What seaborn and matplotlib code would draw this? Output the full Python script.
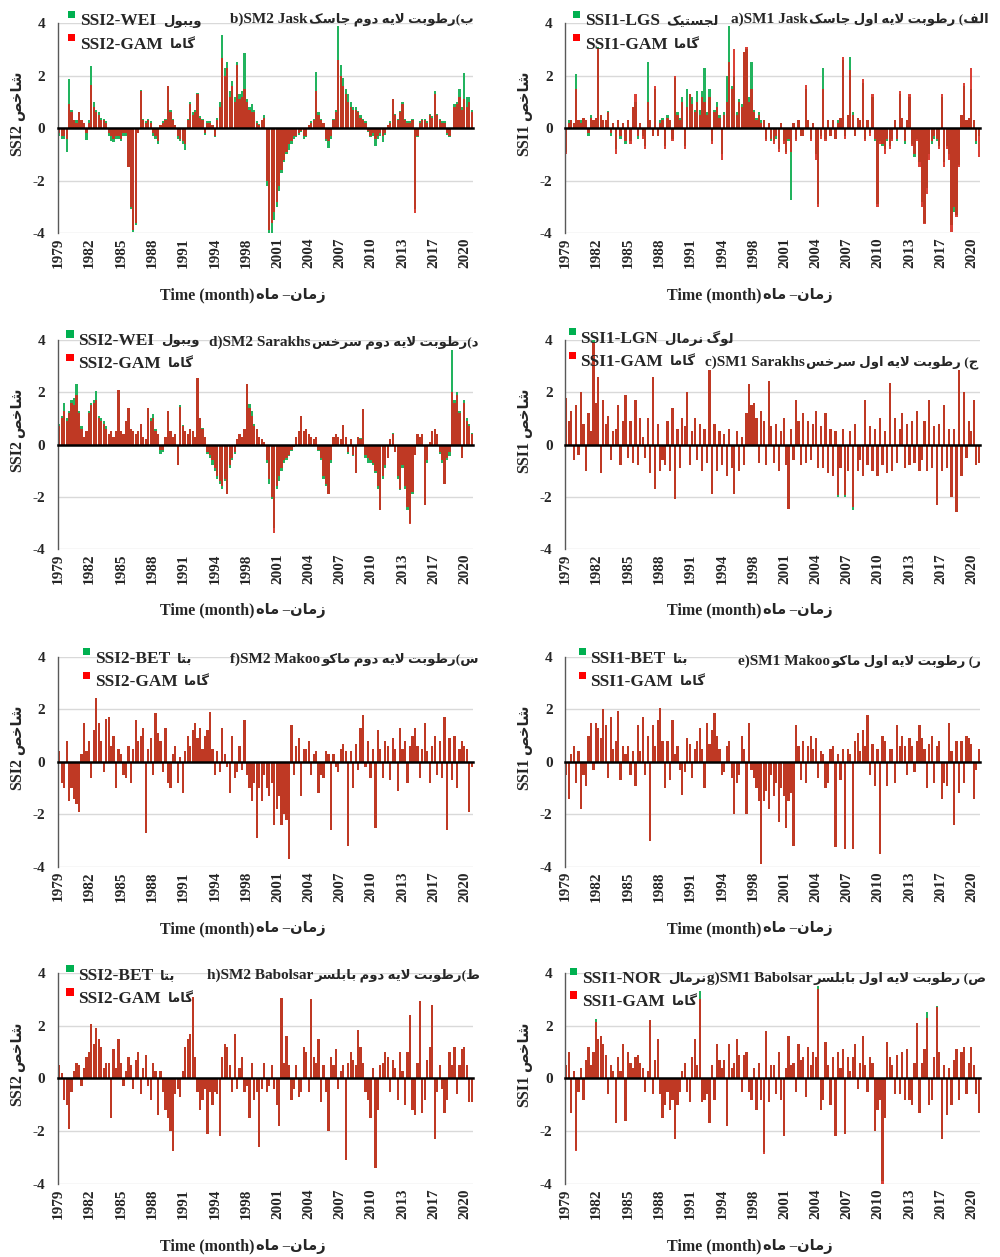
import numpy as np
import matplotlib
matplotlib.use('Agg')
import matplotlib.pyplot as plt
import seaborn as sns
from matplotlib.patches import Rectangle
from matplotlib.legend_handler import HandlerPatch

# quarterly SSI values, 1979 Q1 .. 2020 Q4 (4 per year)
b_gam = [-0.2,-0.3,-0.3,-0.4, 0.9,0.6,0.3,0.2, 0.6,0.3,0.2,-0.2,
         0.2,1.65,0.8,0.6, 0.5,0.3,0.3,0.2, -0.2,-0.3,-0.4,-0.3,
         -0.3,-0.4,-0.2,-0.2, -1.5,-3.0,-3.9,-3.6, -0.2,1.4,0.3,0.2,
         0.3,0.2,-0.2,-0.3, -0.5,0.1,0.2,0.3, 1.6,0.6,0.3,0.1,
         -0.3,-0.4,-0.5,-0.6, 0.3,0.9,0.5,0.6, 1.3,0.4,0.3,-0.2,
         0.2,0.2,0.1,-0.3, 0.3,0.8,2.65,2.0, 2.3,1.2,1.6,1.0,
         2.4,1.1,1.2,1.5, 1.0,0.7,0.6,0.6, 0.2,0.1,0.3,0.4,
         -2.0,-3.9,-3.6,-3.2, -2.8,-2.2,-1.6,-1.2, -0.9,-0.6,-0.5,-0.3,
         -0.3,-0.2,-0.1,-0.3, -0.3,0.1,0.2,0.3, 1.4,0.5,0.3,0.2,
         -0.4,-0.5,-0.3,0.3, 0.6,2.6,2.0,1.6, 1.3,1.0,0.8,0.7,
         0.7,0.6,0.4,0.3, 0.2,-0.1,-0.3,-0.2, -0.4,-0.3,-0.2,-0.3,
         -0.2,0.1,0.2,1.1, 0.5,0.3,0.6,0.9, 0.3,0.2,0.2,0.3,
         -3.25,-0.3,0.2,0.3, 0.3,0.2,0.5,0.4, 1.3,0.5,0.3,0.2,
         0.2,-0.2,-0.3,0.0, 0.8,0.9,1.2,0.7, 1.1,0.8,1.0,0.6]
b_wei = [-0.3,-0.4,-0.4,-0.9, 1.85,0.7,0.3,0.3, 0.6,0.3,0.2,-0.45,
         0.3,2.35,1.0,0.7, 0.6,0.4,0.35,0.25, -0.3,-0.5,-0.55,-0.4,
         -0.4,-0.5,-0.3,-0.3, -1.5,-3.1,-3.95,-3.7, -0.2,1.45,0.35,0.25,
         0.35,0.25,-0.3,-0.4, -0.6,0.1,0.25,0.35, 1.6,0.7,0.35,0.1,
         -0.4,-0.5,-0.6,-0.85, 0.35,1.0,0.6,0.7, 1.35,0.45,0.35,-0.25,
         0.25,0.25,0.1,-0.35, 0.4,1.0,3.55,2.3, 2.5,1.4,1.8,1.2,
         2.5,1.3,1.4,2.85, 1.1,0.8,0.9,0.7, 0.25,0.15,0.3,0.5,
         -2.2,-4.0,-4.0,-3.5, -3.0,-2.4,-1.7,-1.3, -1.0,-0.85,-0.6,-0.4,
         -0.35,-0.25,-0.15,-0.4, -0.35,0.1,0.25,0.35, 2.15,0.6,0.35,0.2,
         -0.5,-0.75,-0.4,0.35, 0.7,3.9,2.4,1.9, 1.5,1.3,1.0,0.8,
         0.8,0.65,0.5,0.35, 0.25,-0.15,-0.35,-0.3, -0.7,-0.4,-0.3,-0.55,
         -0.25,0.1,0.25,1.1, 0.55,0.35,0.65,1.0, 0.35,0.25,0.25,0.35,
         -3.1,-0.35,0.25,0.35, 0.35,0.25,0.55,0.45, 1.4,0.55,0.35,0.25,
         0.25,-0.25,-0.35,-0.05, 0.9,1.0,1.5,0.8, 2.1,1.2,1.2,0.7]

a_gam = [-1.0,0.2,0.3,0.2, 1.5,0.3,0.2,0.4, 0.3,-0.2,0.4,0.3,
         0.4,3.05,0.5,0.3, 0.3,0.6,-0.2,0.2, -1.0,0.3,-0.3,0.2,
         -0.5,0.3,-0.6,0.8, 1.3,-0.3,0.2,-0.4, -0.8,1.0,0.3,-0.3,
         1.6,-0.3,0.2,0.3, -0.8,0.4,0.3,-0.5, 2.0,0.5,0.3,1.0,
         -0.8,0.8,1.3,0.9, 0.6,1.0,0.5,1.2, 1.0,0.5,1.2,-0.6,
         0.6,0.8,0.4,-1.2, 0.5,1.0,2.5,1.5, 3.0,0.5,1.0,0.8,
         2.9,3.1,1.0,1.5, 0.6,0.3,0.5,0.2, 0.3,-0.5,0.2,-0.4,
         -0.6,-0.3,-0.9,0.2, -0.6,-1.0,-0.4,-0.9, 0.2,-0.5,0.3,-0.3,
         -0.3,1.65,0.3,-0.5, 0.2,-1.2,-3.0,-0.4, 1.5,-0.5,0.3,-0.3,
         0.3,-0.4,0.2,0.4, 2.7,-0.4,0.5,2.2, 0.5,-0.3,0.4,0.3,
         1.85,-0.5,0.3,-0.3, 1.3,-0.4,-3.0,-0.6, -0.6,-1.0,-0.4,-0.8,
         -0.5,0.3,-0.4,1.4, 0.4,-0.5,0.3,1.3, -0.7,-1.0,-0.5,-1.5,
         -3.0,-3.65,-2.5,-1.2, -0.5,-0.3,-0.4,-0.8, 1.3,-1.5,-0.8,-1.2,
         -3.95,-3.0,-3.4,-1.5, 0.5,1.7,0.3,0.4, 2.3,0.3,-0.5,-1.1]
a_lgs = [-0.9,0.3,0.3,0.2, 2.05,0.3,0.3,0.4, 0.3,-0.3,0.5,0.3,
         0.4,3.1,0.5,0.3, 0.3,0.65,-0.3,0.2, -0.8,0.3,-0.4,0.2,
         -0.6,0.3,-0.5,0.8, 1.0,-0.4,0.2,-0.3, -0.7,2.5,0.3,-0.3,
         1.5,-0.3,0.3,0.4, -0.7,0.5,0.3,-0.4, 1.9,0.6,0.4,1.2,
         -0.7,1.5,1.3,1.2, 0.7,1.4,0.7,1.4, 2.3,0.6,1.5,-0.5,
         0.7,1.0,0.5,-1.0, 0.6,2.0,3.9,1.6, 2.0,0.6,1.1,0.9,
         2.9,3.0,1.2,2.5, 0.7,0.4,0.6,0.3, 0.3,-0.4,0.2,-0.5,
         -0.5,-0.4,-0.8,0.2, -0.5,-0.9,-0.5,-2.75, 0.2,-0.4,0.3,-0.3,
         -0.3,1.5,0.3,-0.4, 0.2,-1.0,-2.9,-0.3, 2.3,-0.4,0.3,-0.3,
         0.3,-0.4,0.3,0.4, 2.6,-0.3,0.5,2.7, 0.6,-0.3,0.4,0.3,
         1.7,-0.4,0.3,-0.2, 1.2,-0.5,-2.9,-0.5, -0.7,-0.8,-0.5,-0.7,
         -0.4,0.3,-0.5,1.3, 0.4,-0.6,0.3,1.2, -0.6,-1.1,-0.4,-1.3,
         -2.8,-3.6,-2.3,-1.0, -0.6,-0.4,-0.5,-0.7, 1.2,-1.3,-0.7,-1.0,
         -3.7,-3.2,-3.3,-1.4, 0.5,1.6,0.3,0.4, 1.5,0.3,-0.6,-0.3]

d_gam = [0.7,1.0,1.3,0.9, 1.2,1.6,1.5,1.9, 1.2,0.6,0.3,0.5,
         1.2,1.5,1.6,1.7, 1.0,0.9,0.8,0.6, 0.4,0.5,0.3,0.5,
         2.1,0.5,0.4,0.9, 1.4,0.6,0.5,0.4, 0.5,0.8,0.3,0.2,
         1.4,0.9,1.0,0.5, 0.4,-0.2,-0.2,0.3, 1.3,0.5,0.3,0.4,
         -0.8,1.45,0.7,0.5, 0.4,0.6,0.5,0.3, 2.55,1.0,0.6,0.3,
         -0.3,-0.4,-0.6,-0.9, -1.2,-1.4,-1.6,-1.3, -1.9,-0.8,-0.5,-0.3,
         0.2,0.4,0.3,0.6, 2.3,1.4,1.1,0.7, 0.6,0.3,0.2,0.1,
         -0.6,-1.3,-2.0,-3.4, -1.6,-1.2,-0.9,-0.6, -0.5,-0.4,-0.2,-0.1,
         0.3,0.5,1.1,0.5, 0.6,0.4,0.3,0.2, 0.3,-0.2,-0.5,-1.2,
         -1.5,-1.9,-0.6,0.3, 0.4,0.3,0.2,0.75, 0.3,-0.3,0.2,-0.4,
         -1.1,0.3,0.2,1.35, -0.4,-0.5,-0.6,-0.7, -1.0,-1.6,-2.5,-1.2,
         -0.8,-0.5,0.2,0.4, -0.3,-1.2,-1.7,-0.8, -1.6,-2.4,-3.05,-1.8,
         -0.4,0.4,0.3,0.4, -2.3,-0.6,0.1,0.5, 0.6,0.4,-0.3,-0.6,
         -1.5,-0.5,-0.3,2.0, 1.6,1.9,1.2,-0.5, 1.6,0.9,0.7,0.4]
d_wei = [0.8,1.1,1.6,1.0, 1.3,1.7,1.8,2.3, 1.3,0.7,0.3,0.5,
         1.3,1.6,1.7,2.05, 1.1,1.0,0.9,0.7, 0.4,0.5,0.3,0.5,
         2.1,0.5,0.4,0.9, 1.4,0.6,0.5,0.4, 0.5,0.8,0.3,0.2,
         1.4,1.0,1.15,0.6, 0.4,-0.35,-0.3,0.3, 1.3,0.5,0.3,0.4,
         -0.8,1.5,0.75,0.5, 0.4,0.6,0.5,0.3, 2.55,1.0,0.65,0.3,
         -0.35,-0.5,-0.8,-1.0, -1.3,-1.5,-1.7,-1.4, -1.9,-0.9,-0.6,-0.35,
         0.2,0.4,0.3,0.6, 2.3,1.55,1.3,0.8, 0.6,0.3,0.2,0.1,
         -0.7,-1.5,-2.1,-3.2, -1.7,-1.4,-1.0,-0.7, -0.6,-0.45,-0.25,-0.1,
         0.3,0.5,1.1,0.5, 0.6,0.4,0.3,0.2, 0.3,-0.25,-0.6,-1.3,
         -1.6,-1.9,-0.7,0.3, 0.4,0.3,0.2,0.75, 0.3,-0.35,0.2,-0.45,
         -1.1,0.3,0.25,1.35, -0.5,-0.7,-0.7,-0.8, -1.1,-1.7,-2.5,-1.3,
         -0.9,-0.5,0.2,0.45, -0.3,-1.3,-1.75,-0.9, -1.7,-2.5,-3.0,-1.9,
         -0.4,0.4,0.3,0.4, -2.3,-0.7,0.1,0.5, 0.6,0.4,-0.35,-0.7,
         -1.5,-0.6,-0.45,3.6, 1.7,2.0,1.3,-0.5, 1.7,1.0,0.8,0.45]

c_gam = [1.8,0.9,1.3,-0.6, 1.5,-0.4,2.0,0.8, -1.0,1.2,0.5,3.9,
         1.6,2.6,-1.1,1.7, 0.8,1.1,-0.6,0.5, 0.6,1.5,-0.8,0.9,
         1.9,-0.5,0.9,-0.7, 1.7,-0.8,1.0,0.3, -0.5,1.0,-1.1,2.6,
         -1.7,0.8,-1.0,-0.6, -0.8,0.9,-1.0,1.4, -2.1,0.6,-0.9,1.0,
         0.7,2.0,-0.8,0.5, 1.0,-0.6,0.8,-1.0, 0.6,-0.7,2.85,-1.9,
         0.8,-1.0,0.5,-0.8, 0.4,-1.2,0.6,-0.9, -1.9,0.5,-1.0,0.3,
         -0.8,1.2,2.3,1.5, 1.6,1.0,-0.7,1.3, 0.9,-0.8,2.45,0.7,
         -0.7,0.8,-1.0,0.5, 1.0,-0.8,-2.45,0.6, -0.6,1.7,0.9,-0.8,
         1.2,-0.7,0.9,-0.6, 0.8,1.3,-0.9,0.7, -0.9,1.2,-1.1,0.6,
         -1.2,0.5,-1.95,-0.9, 0.6,-1.95,-1.0,0.5, -2.4,0.8,-1.0,-0.6,
         -1.2,1.7,-0.8,0.7, -1.0,0.6,-1.2,1.0, -0.8,0.5,-1.1,2.35,
         -1.0,1.0,-0.7,0.6, 1.2,-0.9,0.8,-0.8, 0.9,-0.7,1.3,-1.0,
         -0.6,0.9,-1.0,1.7, -0.9,0.7,-2.3,0.8, -1.0,1.5,-0.9,0.6,
         -2.0,0.6,-2.6,2.85, -1.2,2.0,-0.5,0.9, 0.5,1.7,-0.8,-0.7]
c_lgn = [1.8,0.9,1.3,-0.6, 1.5,-0.4,2.0,0.8, -1.0,1.2,0.5,4.0,
         1.6,2.6,-1.1,1.7, 0.8,1.1,-0.6,0.5, 0.6,1.5,-0.8,0.9,
         1.9,-0.5,0.9,-0.7, 1.7,-0.8,1.0,0.3, -0.5,1.0,-1.1,2.6,
         -1.7,0.8,-1.0,-0.6, -0.8,0.9,-1.0,1.4, -2.1,0.6,-0.9,1.0,
         0.7,2.0,-0.8,0.5, 1.0,-0.6,0.8,-1.0, 0.6,-0.7,2.85,-1.9,
         0.8,-1.0,0.5,-0.8, 0.4,-1.2,0.6,-0.9, -1.9,0.5,-1.0,0.3,
         -0.8,1.2,2.3,1.5, 1.6,1.0,-0.7,1.3, 0.9,-0.8,2.45,0.7,
         -0.7,0.8,-1.0,0.5, 1.0,-0.8,-2.45,0.6, -0.6,1.7,0.9,-0.8,
         1.2,-0.7,0.9,-0.6, 0.8,1.3,-0.9,0.7, -0.9,1.2,-1.1,0.6,
         -1.2,0.5,-2.0,-0.9, 0.6,-2.0,-1.0,0.5, -2.5,0.8,-1.0,-0.6,
         -1.2,1.7,-0.8,0.7, -1.0,0.6,-1.2,1.0, -0.8,0.5,-1.1,2.35,
         -1.0,1.0,-0.7,0.6, 1.2,-0.9,0.8,-0.8, 0.9,-0.7,1.3,-1.0,
         -0.6,0.9,-1.0,1.7, -0.9,0.7,-2.3,0.8, -1.0,1.5,-0.9,0.6,
         -2.0,0.6,-2.6,2.85, -1.2,2.0,-0.5,0.9, 0.5,1.7,-0.8,-0.7]

f_gam = [0.4,-0.8,-1.0,0.8, -1.5,-1.0,-1.4,-1.6, -1.9,0.3,1.5,0.4,
         0.8,-0.6,1.2,2.45, 1.5,0.8,-0.4,1.65, 1.7,0.6,1.0,-1.0,
         0.5,0.3,-0.5,-0.6, 0.6,-0.8,0.5,1.6, 0.8,1.0,1.3,-2.7,
         0.5,0.9,-0.5,1.85, 1.1,0.8,-0.4,1.3, -0.8,-1.0,0.3,0.6,
         -0.8,0.2,-1.2,0.4, 1.0,0.6,1.2,1.5, 0.9,1.3,0.5,1.0,
         1.2,1.9,0.5,-0.5, 0.4,-0.4,1.3,0.3, -0.2,-1.2,1.0,-0.6,
         -0.4,0.6,-0.3,1.6, -0.5,-1.0,-1.5,-0.8, -2.9,-1.0,-1.5,-0.5,
         -1.0,-1.3,-0.8,-2.4, -1.8,-1.3,-2.4,-2.0, -2.2,-3.7,1.4,-0.5,
         0.6,0.9,-1.3,0.5, 0.5,0.8,-0.5,0.3, 0.4,-1.2,-0.5,-0.6,
         0.4,0.3,-2.6,0.3, -0.2,-0.4,0.5,0.7, 0.4,-3.2,0.4,-1.0,
         0.7,-0.3,1.3,1.8, -0.2,0.8,-0.6,0.5, -2.5,1.2,0.5,-0.6,
         0.8,0.6,-0.7,0.9, 0.5,-1.1,1.3,0.5, 0.8,-0.8,0.6,1.0,
         1.3,0.6,-0.6,0.5, 1.5,0.4,-0.8,0.6, 1.0,-0.5,0.8,-0.6,
         1.7,-2.6,0.9,-0.7, 1.0,-1.0,0.5,0.8, 0.6,0.5,-1.9,-0.2]
f_bet = [0.4,-0.8,-1.0,0.8, -1.5,-1.0,-1.4,-1.6, -1.9,0.3,1.5,0.4,
         0.8,-0.6,1.2,2.45, 1.5,0.8,-0.4,1.65, 1.7,0.6,1.0,-1.0,
         0.5,0.3,-0.5,-0.6, 0.6,-0.8,0.5,1.6, 0.8,1.0,1.3,-2.7,
         0.5,0.9,-0.5,1.85, 1.1,0.8,-0.4,1.3, -0.8,-1.0,0.3,0.6,
         -0.8,0.2,-1.2,0.4, 1.0,0.6,1.2,1.5, 0.9,1.3,0.5,1.0,
         1.2,1.9,0.5,-0.5, 0.4,-0.4,1.3,0.3, -0.2,-1.2,1.0,-0.6,
         -0.4,0.6,-0.3,1.6, -0.5,-1.0,-1.5,-0.8, -2.9,-1.0,-1.5,-0.5,
         -1.0,-1.3,-0.8,-2.4, -1.8,-1.3,-2.4,-2.0, -2.2,-3.7,1.4,-0.5,
         0.6,0.9,-1.3,0.5, 0.5,0.8,-0.5,0.3, 0.4,-1.2,-0.5,-0.6,
         0.4,0.3,-2.6,0.3, -0.2,-0.4,0.5,0.7, 0.4,-3.2,0.4,-1.0,
         0.7,-0.3,1.3,1.8, -0.2,0.8,-0.6,0.5, -2.5,1.2,0.5,-0.6,
         0.8,0.6,-0.7,0.9, 0.5,-1.1,1.3,0.5, 0.8,-0.8,0.6,1.0,
         1.3,0.6,-0.6,0.5, 1.5,0.4,-0.8,0.6, 1.0,-0.5,0.8,-0.6,
         1.7,-2.6,0.9,-0.7, 1.0,-1.0,0.5,0.8, 0.6,0.5,-1.9,-0.2]

e_gam = [-0.5,-1.4,0.3,0.6, -0.8,0.4,-1.8,-0.5, -0.9,1.0,1.5,-0.3,
         1.5,1.3,0.9,2.0, 1.4,-0.6,1.7,0.5, 0.8,1.95,-0.7,0.6,
         0.3,0.6,-0.5,0.4, -0.9,1.4,0.4,1.7, -0.5,1.0,-3.0,1.4,
         0.6,1.6,2.05,0.8, -1.0,0.8,-0.7,1.6, 0.3,0.6,-0.3,-1.25,
         -0.4,0.9,0.7,-0.6, 0.5,0.8,1.3,0.5, -1.0,1.5,0.7,1.2,
         1.85,1.0,0.5,-0.5, -0.4,0.6,0.8,-0.6, -2.0,-0.8,-0.5,1.0,
         0.5,-2.0,1.5,-0.3, -0.6,-1.0,-1.5,-3.9, -1.5,-1.1,-1.8,-0.5,
         -1.3,-0.8,-2.3,-1.0, -1.3,-2.5,-1.5,-1.2, -3.2,1.4,0.6,-0.7,
         0.8,-0.8,0.6,1.0, 0.5,0.9,-0.6,0.4, 0.3,-1.0,-0.8,0.5,
         0.6,-3.25,0.3,-0.7, 0.5,-3.3,0.5,0.3, -3.3,0.8,1.1,0.4,
         1.2,0.6,1.8,-0.5, 0.7,-0.9,0.5,-3.5, 1.0,0.8,-0.9,0.5,
         0.5,-0.8,1.4,0.6, 1.0,0.6,-0.5,0.9, 0.6,-0.4,0.8,1.4,
         0.9,0.5,-1.0,0.7, 1.0,-0.8,0.6,0.8, -1.4,-0.8,-0.9,1.5,
         0.4,-2.4,0.8,-1.2, 0.8,-0.8,1.0,0.9, 0.7,-1.4,-0.3,0.5]
e_bet = [-0.5,-1.4,0.3,0.6, -0.8,0.4,-1.8,-0.5, -0.9,1.0,1.5,-0.3,
         1.5,1.3,0.9,2.0, 1.4,-0.6,1.7,0.5, 0.8,1.95,-0.7,0.6,
         0.3,0.6,-0.5,0.4, -0.9,1.4,0.4,1.7, -0.5,1.0,-3.0,1.4,
         0.6,1.6,2.05,0.8, -1.0,0.8,-0.7,1.6, 0.3,0.6,-0.3,-1.25,
         -0.4,0.9,0.7,-0.6, 0.5,0.8,1.3,0.5, -1.0,1.5,0.7,1.2,
         1.85,1.0,0.5,-0.5, -0.4,0.6,0.8,-0.6, -2.0,-0.8,-0.5,1.0,
         0.5,-2.0,1.5,-0.3, -0.6,-1.0,-1.5,-3.9, -1.5,-1.1,-1.8,-0.5,
         -1.3,-0.8,-2.3,-1.0, -1.3,-2.5,-1.5,-1.2, -3.2,1.4,0.6,-0.7,
         0.8,-0.8,0.6,1.0, 0.5,0.9,-0.6,0.4, 0.3,-1.0,-0.8,0.5,
         0.6,-3.25,0.3,-0.7, 0.5,-3.3,0.5,0.3, -3.3,0.8,1.1,0.4,
         1.2,0.6,1.8,-0.5, 0.7,-0.9,0.5,-3.5, 1.0,0.8,-0.9,0.5,
         0.5,-0.8,1.4,0.6, 1.0,0.6,-0.5,0.9, 0.6,-0.4,0.8,1.4,
         0.9,0.5,-1.0,0.7, 1.0,-0.8,0.6,0.8, -1.4,-0.8,-0.9,1.5,
         0.4,-2.4,0.8,-1.2, 0.8,-0.8,1.0,0.9, 0.7,-1.4,-0.3,0.5]

h_gam = [0.5,0.2,-0.8,-1.0, -1.9,-0.5,0.3,0.6, 0.5,-0.3,0.4,0.8,
         1.0,2.05,1.3,1.9, 1.5,1.2,0.4,0.6, 0.6,-1.5,1.1,0.4,
         1.5,0.6,-0.3,0.3, 0.8,0.5,-0.4,0.7, 1.0,-0.6,0.4,0.9,
         -0.3,-0.8,0.6,0.3, -1.4,0.3,-0.5,-1.2, -1.5,-2.0,-2.75,-0.6,
         -0.4,-0.7,0.3,1.2, 1.5,1.7,3.1,0.8, -0.5,-1.2,-0.8,-0.4,
         -2.1,-0.5,-1.0,-0.5, -0.6,-2.2,0.8,1.3, 1.2,0.5,-0.5,1.7,
         -0.4,0.4,0.8,-0.5, -0.3,-1.5,0.6,-0.8, -0.5,-2.6,-0.4,0.6,
         -0.5,-0.3,0.5,-0.4, -1.0,-1.8,3.05,0.6, 1.6,0.5,-0.8,-0.4,
         0.5,-0.7,-0.5,1.2, 1.0,-0.5,3.0,0.8, 0.6,1.5,-0.9,0.5,
         -0.5,-2.0,0.8,0.5, 1.1,-0.4,0.3,0.5, -3.1,0.6,1.0,0.7,
         0.5,1.85,1.2,0.6, -0.5,-0.8,-1.5,0.4, -3.4,-1.2,0.5,0.6,
         1.0,0.8,-0.5,0.7, 0.4,-0.8,1.0,0.3, -1.0,1.0,2.4,-1.2,
         -1.4,0.6,2.95,-1.3, -0.8,0.7,1.2,2.8, -2.3,-0.5,0.5,-0.4,
         -1.3,-0.8,1.0,0.5, 1.2,-0.6,0.5,1.1, 1.2,0.5,-0.9,-0.9]
h_bet = [0.5,0.2,-0.8,-1.0, -1.9,-0.5,0.3,0.6, 0.5,-0.3,0.4,0.8,
         1.0,2.05,1.3,1.9, 1.5,1.2,0.4,0.6, 0.6,-1.5,1.1,0.4,
         1.5,0.6,-0.3,0.3, 0.8,0.5,-0.4,0.7, 1.0,-0.6,0.4,0.9,
         -0.3,-0.8,0.6,0.3, -1.4,0.3,-0.5,-1.2, -1.5,-2.0,-2.75,-0.6,
         -0.4,-0.7,0.3,1.2, 1.5,1.7,3.1,0.8, -0.5,-1.2,-0.8,-0.4,
         -2.1,-0.5,-1.0,-0.5, -0.6,-2.2,0.8,1.3, 1.2,0.5,-0.5,1.7,
         -0.4,0.4,0.8,-0.5, -0.3,-1.5,0.6,-0.8, -0.5,-2.6,-0.4,0.6,
         -0.5,-0.3,0.5,-0.4, -1.0,-1.8,3.05,0.6, 1.6,0.5,-0.8,-0.4,
         0.5,-0.7,-0.5,1.2, 1.0,-0.5,3.0,0.8, 0.6,1.5,-0.9,0.5,
         -0.5,-2.0,0.8,0.5, 1.1,-0.4,0.3,0.5, -3.1,0.6,1.0,0.7,
         0.5,1.85,1.2,0.6, -0.5,-0.8,-1.5,0.4, -3.4,-1.2,0.5,0.6,
         1.0,0.8,-0.5,0.7, 0.4,-0.8,1.0,0.3, -1.0,1.0,2.4,-1.2,
         -1.4,0.6,2.95,-1.3, -0.8,0.7,1.2,2.8, -2.3,-0.5,0.5,-0.4,
         -1.3,-0.8,1.0,0.5, 1.2,-0.6,0.5,1.1, 1.2,0.5,-0.9,-0.9]

g_gam = [0.5,1.0,-1.3,0.3, -2.75,-0.5,0.4,-0.8, 0.7,1.2,0.5,1.0,
         2.15,1.5,1.6,1.3, 0.9,-0.6,0.5,0.3, -1.7,0.8,0.3,1.3,
         -1.6,1.0,0.6,0.4, 0.8,0.9,0.6,0.4, -0.5,0.3,2.2,-0.6,
         0.7,1.5,-0.6,-1.5, -1.0,-0.5,-1.2,-0.8, -2.3,-1.0,-0.5,0.3,
         0.6,-0.5,-0.9,0.8, 1.5,0.5,3.0,-0.9, -0.8,-0.6,-1.7,0.5,
         -0.8,1.3,0.7,0.4, 0.7,-1.8,1.3,0.4, 0.6,1.5,0.9,-0.5,
         0.9,1.0,-0.5,-0.8, 0.4,-1.2,0.6,-0.8, -2.85,1.8,-0.9,0.5,
         0.5,-0.6,1.0,-0.8, -2.2,0.4,1.6,0.5, 0.6,-0.5,1.3,0.7,
         0.8,-0.7,1.2,0.5, 1.0,0.8,3.4,-1.2, -0.8,1.4,0.5,-1.0,
         0.8,-2.2,1.0,0.4, 1.1,-2.1,0.8,0.3, 0.8,1.3,-0.4,0.6,
         1.6,0.5,-0.5,0.8, 0.6,-2.0,-1.2,-0.8, -4.0,-1.5,1.4,0.8,
         0.5,-0.6,0.9,-0.6, 1.0,-0.8,1.1,-0.8, -1.0,0.6,2.1,-1.3,
         0.6,1.1,2.3,-1.0, -0.8,0.8,2.7,1.0, -2.3,0.5,-1.4,0.4,
         -1.0,0.7,1.1,-0.8, 1.0,1.2,-0.6,0.6, 1.2,0.5,-0.6,-1.3]
g_nor = [0.5,1.0,-1.3,0.3, -2.7,-0.5,0.4,-0.8, 0.7,1.2,0.5,1.0,
         2.25,1.5,1.6,1.3, 0.9,-0.6,0.5,0.3, -1.7,0.8,0.3,1.3,
         -1.6,1.0,0.6,0.4, 0.8,0.9,0.6,0.4, -0.5,0.3,2.2,-0.6,
         0.7,1.5,-0.6,-1.5, -1.0,-0.5,-1.2,-0.8, -2.3,-1.0,-0.5,0.3,
         0.6,-0.5,-0.9,0.8, 1.5,0.5,3.3,-0.9, -0.8,-0.6,-1.7,0.5,
         -0.8,1.3,0.7,0.4, 0.7,-1.8,1.3,0.4, 0.6,1.5,0.9,-0.5,
         0.9,1.0,-0.5,-0.8, 0.4,-1.2,0.6,-0.8, -2.8,1.8,-0.9,0.5,
         0.5,-0.6,1.0,-0.8, -2.2,0.4,1.6,0.5, 0.6,-0.5,1.3,0.7,
         0.8,-0.7,1.2,0.5, 1.0,0.8,3.5,-1.2, -0.8,1.4,0.5,-1.0,
         0.8,-2.2,1.0,0.4, 1.1,-2.1,0.8,0.3, 0.8,1.3,-0.4,0.6,
         1.6,0.5,-0.5,0.8, 0.6,-2.0,-1.2,-0.8, -3.9,-1.5,1.4,0.8,
         0.5,-0.6,0.9,-0.6, 1.0,-0.8,1.1,-0.8, -1.0,0.6,2.1,-1.3,
         0.6,1.1,2.5,-1.0, -0.8,0.8,2.75,1.0, -2.3,0.5,-1.4,0.4,
         -1.0,0.7,1.1,-0.8, 1.0,1.2,-0.6,0.6, 1.2,0.5,-0.6,-1.3]

tick_years = [1979, 1982, 1985, 1988, 1991, 1994, 1998, 2001, 2004, 2007, 2010, 2013, 2017, 2020]
n_months = 504

GREEN = '#22B35E'
RED = '#D6281C'
FAMILY = ['Liberation Serif', 'DejaVu Sans']

# Persian letters -> presentation forms (isolated, final, initial, medial)
FORMS = {
    'ا': ('\uFE8D', '\uFE8E'), 'د': ('\uFEA9', '\uFEAA'), 'ر': ('\uFEAD', '\uFEAE'),
    'ز': ('\uFEAF', '\uFEB0'), 'و': ('\uFEED', '\uFEEE'),
    'ب': ('\uFE8F', '\uFE90', '\uFE91', '\uFE92'), 'ت': ('\uFE95', '\uFE96', '\uFE97', '\uFE98'),
    'ج': ('\uFE9D', '\uFE9E', '\uFE9F', '\uFEA0'), 'خ': ('\uFEA5', '\uFEA6', '\uFEA7', '\uFEA8'),
    'س': ('\uFEB1', '\uFEB2', '\uFEB3', '\uFEB4'), 'ش': ('\uFEB5', '\uFEB6', '\uFEB7', '\uFEB8'),
    'ص': ('\uFEB9', '\uFEBA', '\uFEBB', '\uFEBC'), 'ط': ('\uFEC1', '\uFEC2', '\uFEC3', '\uFEC4'),
    'ف': ('\uFED1', '\uFED2', '\uFED3', '\uFED4'), 'ل': ('\uFEDD', '\uFEDE', '\uFEDF', '\uFEE0'),
    'م': ('\uFEE1', '\uFEE2', '\uFEE3', '\uFEE4'), 'ن': ('\uFEE5', '\uFEE6', '\uFEE7', '\uFEE8'),
    'ه': ('\uFEE9', '\uFEEA', '\uFEEB', '\uFEEC'), 'ی': ('\uFBFC', '\uFBFD', '\uFBFE', '\uFBFF'),
    'ک': ('\uFB8E', '\uFB8F', '\uFB90', '\uFB91'), 'گ': ('\uFB92', '\uFB93', '\uFB94', '\uFB95'),
}


def fa(s):
    # shape Persian text and put it in visual (left-to-right) order
    out = []
    i = 0
    while i < len(s):
        c = s[i]
        if c not in FORMS:
            out.append({'(': ')', ')': '('}.get(c, c))
            i += 1
            continue
        prev = s[i - 1] if i > 0 else ''
        jp = prev in FORMS and len(FORMS[prev]) == 4
        if c == 'ل' and s[i + 1:i + 2] == 'ا':
            out.append('\uFEFC' if jp else '\uFEFB')
            i += 2
            continue
        nxt = s[i + 1] if i + 1 < len(s) else ''
        jn = len(FORMS[c]) == 4 and nxt in FORMS
        f = FORMS[c]
        out.append(f[3] if jp and jn else f[1] if jp else f[2] if jn else f[0])
        i += 1
    return ''.join(reversed(out))


class RaisedSquare(HandlerPatch):
    def create_artists(self, legend, orig_handle, xdescent, ydescent, width, height, fontsize, trans):
        s = fontsize * 0.42
        r = Rectangle((-xdescent + width - s, -ydescent + height / 2 + fontsize * 0.28 - s / 2), s, s,
                      facecolor=orig_handle.get_facecolor(), edgecolor='none', transform=trans)
        return [r]


def persian_after(ax, anchor, text, size, gap):
    # Persian part placed right after a Latin text artist
    ax.annotate(fa(text), xy=(1, 0.5), xycoords=anchor, xytext=(gap, 0), textcoords='offset points',
                ha='left', va='center', fontsize=size, zorder=6, annotation_clip=False)


sns.set_style('white')
plt.rcParams['font.family'] = FAMILY
plt.rcParams['font.weight'] = 'bold'
plt.rcParams['axes.labelweight'] = 'bold'
plt.rcParams['axes.unicode_minus'] = False

panels = [
    # row, col, red, green, index, code, code fa, title en, title fa, title x, title y, legend x, legend y
    (0, 0, b_gam, b_wei, 'SSI2', 'WEI', 'ویبول', 'b)SM2 Jask', 'ب)رطوبت لایه دوم جاسک', 0.414, 1.016, 0.021, 1.047),
    (0, 1, a_gam, a_lgs, 'SSI1', 'LGS', 'لجستیک', 'a)SM1 Jask', 'الف) رطوبت لایه اول جاسک', 0.400, 1.016, 0.016, 1.047),
    (1, 0, d_gam, d_wei, 'SSI2', 'WEI', 'ویبول', 'd)SM2 Sarakhs', 'د)رطوبت لایه دوم سرخس', 0.364, 0.990, 0.017, 1.035),
    (1, 1, c_gam, c_lgn, 'SSI1', 'LGN', 'لوگ نرمال', 'c)SM1 Sarakhs', 'ج) رطوبت لایه اول سرخس', 0.337, 0.895, 0.006, 1.045),
    (2, 0, f_gam, f_bet, 'SSI2', 'BET', 'بتا', 'f)SM2 Makoo', 'س)رطوبت لایه دوم ماکو', 0.414, 0.988, 0.057, 1.030),
    (2, 1, e_gam, e_bet, 'SSI1', 'BET', 'بتا', 'e)SM1 Makoo', 'ر) رطوبت لایه اول ماکو', 0.417, 0.978, 0.030, 1.030),
    (3, 0, h_gam, h_bet, 'SSI2', 'BET', 'بتا', 'h)SM2 Babolsar', 'ط)رطوبت لایه دوم بابلسر', 0.359, 0.991, 0.017, 1.026),
    (3, 1, g_gam, g_nor, 'SSI1', 'NOR', 'نرمال', 'g)SM1 Babolsar', 'ص) رطوبت لایه اول بابلسر', 0.342, 0.974, 0.009, 1.012),
]

col_x = [0.058, 0.565]
row_box = [(0.8146, 0.1671), (0.5632, 0.1663), (0.3103, 0.1671), (0.0581, 0.1679)]

fig = plt.figure(figsize=(10, 12.57), dpi=100)

for row, col, red, green, ssi, code, code_fa, t_en, t_fa, tx, ty, lx, ly in panels:
    ax = fig.add_axes([col_x[col], row_box[row][0], 0.415, row_box[row][1]])
    for vals, colr, alpha in ((green, GREEN, 1.0), (red, RED, 0.88)):
        pos = np.arange(len(vals)) * 3 + 1
        sns.barplot(x=pos, y=vals, native_scale=True, orient='x', width=0.9, color=colr,
                    saturation=1, errorbar=None, linewidth=0, alpha=alpha, ax=ax)

    ax.set_xlim(-0.5, n_months - 0.5)
    ax.set_ylim(-4, 4)
    ax.set_axisbelow(True)
    ax.yaxis.grid(True, color='#d9d9d9', lw=1)
    ax.xaxis.grid(False)
    ax.set_yticks([-4, -2, 0, 2, 4])
    ax.tick_params(axis='y', length=4, width=1, color='#595959', pad=5, labelsize=11)
    for s in ('top', 'right'):
        ax.spines[s].set_visible(False)
    ax.spines['left'].set_color('#595959')
    ax.spines['left'].set_linewidth(1)
    ax.spines['bottom'].set_position(('data', 0))
    ax.spines['bottom'].set_color('black')
    ax.spines['bottom'].set_linewidth(1.8)
    ax.set_xticks(np.arange(-0.5, n_months, 12))
    ax.tick_params(axis='x', direction='inout', length=9, width=1.3, color='black', labelbottom=False)

    sec = ax.secondary_xaxis('bottom')
    sec.set_xticks(np.arange(len(tick_years)) * 38, labels=[str(y) for y in tick_years])
    sec.tick_params(length=0, pad=3, labelsize=11, labelrotation=90)
    sec.spines['bottom'].set_visible(False)

    ax.set_ylabel(ssi, fontsize=11.5)
    ax.yaxis.set_label_coords(-0.08, 0.443)
    ax.annotate(fa('شاخص'), xy=(0.5, 1), xycoords=ax.yaxis.label, xytext=(0, 2),
                textcoords='offset points', rotation=90, ha='center', va='bottom',
                fontsize=10.5, zorder=6, annotation_clip=False)

    ax.set_xlabel('Time (month)', fontsize=11.5)
    ax.xaxis.set_label_coords(0.359, -0.257)
    persian_after(ax, ax.xaxis.label, 'زمان– ماه', 10.5, 1)

    t = ax.text(tx, ty, t_en, transform=ax.transAxes, ha='left', va='center', fontsize=11)
    persian_after(ax, t, t_fa, 9.5, 1)

    handles = [Rectangle((0, 0), 1, 1, facecolor='#00B050'), Rectangle((0, 0), 1, 1, facecolor='#FF0000')]
    labels = [f'{ssi}-{code}', f'{ssi}-GAM']
    leg = ax.legend(handles, labels, handler_map={Rectangle: RaisedSquare()}, loc='upper left',
                    bbox_to_anchor=(lx, ly), borderaxespad=0, borderpad=0, frameon=False,
                    handlelength=0.5, handletextpad=0.25, labelspacing=0.42,
                    prop={'size': 12.5, 'weight': 'bold', 'family': FAMILY})
    persian_after(ax, leg.get_texts()[0], code_fa, 9.5, 5)
    persian_after(ax, leg.get_texts()[1], 'گاما', 9.5, 5)

fig.savefig('out.png', dpi=100)
